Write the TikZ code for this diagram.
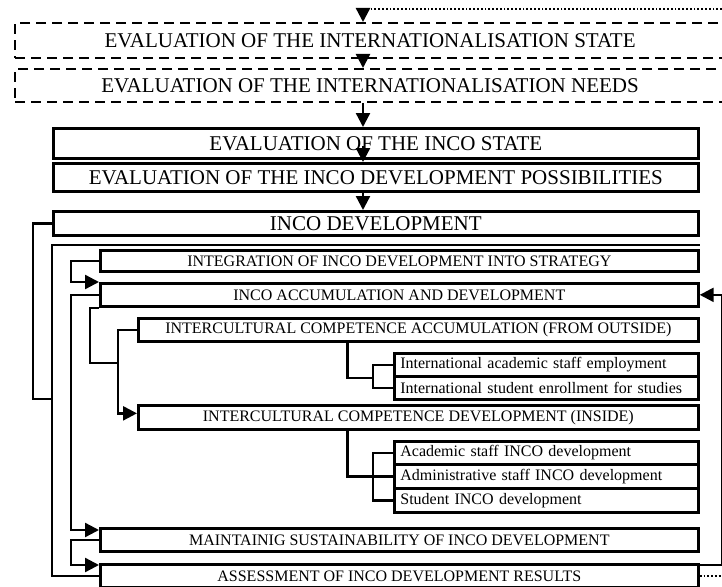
\documentclass[tikz,border=0pt]{standalone}
\usepackage{fontspec}
\setmainfont{Liberation Serif}
\usetikzlibrary{arrows.meta, positioning, calc}
\tikzstyle{evalbox} = [rectangle, anchor=north west, inner sep=0pt, draw=black, line width=2.2pt, dash pattern=on 10pt off 6pt, font=\fontsize{21}{21}\selectfont]
\tikzstyle{stagebox} = [rectangle, anchor=north west, inner sep=0pt, minimum width=645pt, draw=black, line width=2.7pt, font=\fontsize{21}{21}\selectfont]
\tikzstyle{process} = [rectangle, anchor=north west, inner sep=0pt, draw=black, line width=2.7pt, font=\fontsize{16}{16}\selectfont]
\tikzstyle{listbox} = [rectangle, anchor=north west, inner xsep=6pt, inner ysep=0pt, text width=292pt, minimum height=23pt, align=left, draw=black, line width=2.7pt, font=\fontsize{16}{16}\selectfont]
\tikzstyle{arrow} = [line width=2.4pt, -{Triangle[length=14pt,width=14pt]}]
\tikzstyle{link} = [line width=2.4pt]
\tikzstyle{feedback} = [line width=1.8pt, dash pattern=on 1.8pt off 2pt]

\begin{document}
\begin{tikzpicture}[x=1pt, y=-1pt]
\useasboundingbox (0,0) rectangle (722,586);
\clip (0,0) rectangle (722,586);

% Nodes
\node (statestep) [evalbox, minimum width=710pt, minimum height=35pt] at (14,22) {EVALUATION OF THE INTERNATIONALISATION STATE};
\node (needs) [evalbox, minimum width=710pt, minimum height=33pt] at (14,68) {EVALUATION OF THE INTERNATIONALISATION NEEDS};
\node (incostate) [stagebox, minimum height=30pt] at (52,127) {EVALUATION OF THE INCO STATE};
\node (possib) [stagebox, minimum height=28pt] at (52,162) {EVALUATION OF THE INCO DEVELOPMENT POSSIBILITIES};
\node (incodev) [stagebox, minimum height=24pt] at (52,210) {INCO DEVELOPMENT};
\node (integr) [process, minimum width=598pt, minimum height=21pt] at (99,249) {INTEGRATION OF INCO DEVELOPMENT INTO STRATEGY};
\node (accum) [process, minimum width=598pt, minimum height=23pt] at (99,282) {INCO ACCUMULATION AND DEVELOPMENT};
\node (outside) [process, minimum width=560pt, minimum height=23pt] at (137,317) {INTERCULTURAL COMPETENCE ACCUMULATION (FROM OUTSIDE)};
\node (staffemp) [listbox] at (393,352) {International academic staff employment};
\node (studenr) [listbox] at (393,375) {International student enrollment for studies};
\node (inside) [process, minimum width=560pt, minimum height=24pt] at (137,404) {INTERCULTURAL COMPETENCE DEVELOPMENT (INSIDE)};
\node (acadev) [listbox] at (393,440) {Academic staff INCO development};
\node (admdev) [listbox, minimum height=24pt] at (393,463) {Administrative staff INCO development};
\node (studev) [listbox, minimum height=24pt] at (393,487) {Student INCO development};
\node (sustain) [process, minimum width=598pt, minimum height=23pt] at (99,527) {MAINTAINIG SUSTAINABILITY OF INCO DEVELOPMENT};
\node (assess) [process, minimum width=598pt, minimum height=23pt] at (99,563) {ASSESSMENT OF INCO DEVELOPMENT RESULTS};

\coordinate (axis) at (363,0);
\coordinate (loopin) at (722,9);
\coordinate (loopturn) at (363,9);
\coordinate (spine) at (52,399);
\coordinate (subbus) at (118,363);
\coordinate (frametop) at ([yshift=4pt]integr.north west);
\coordinate (frameend) at ([yshift=4pt]integr.north east);

% Arrows
\draw [feedback] (loopin) -- (loopturn);
\draw [arrow] (loopturn) -- (loopturn |- statestep.north);
\draw [arrow] (statestep.south -| axis) -- (needs.north -| axis);
\draw [arrow] (needs.south -| axis) -- (incostate.north -| axis);
\draw [arrow] ([yshift=14pt]incostate.south -| axis) -- (possib.north -| axis);
\draw [arrow] (possib.south -| axis) -- (incodev.north -| axis);

\draw [link] (incodev.west) -- ++(-19,0) |- (spine);
\draw [link] (assess.west) -| (frametop -| incodev.west) -- (frameend);
\draw [arrow] (integr.west) -- ++(-28,0) |- (accum.north west);
\draw [arrow] (accum.west) -- ++(-28,0) |- ([yshift=-3pt]sustain.north west);
\draw [arrow] (sustain.west) -- ++(-28,0) |- ([yshift=-2pt]assess.north west);

\draw [link] (accum.south west) -- ++(-9,0) |- (subbus);
\draw [arrow] (outside.west) -- ++(-19,0) |- ([yshift=4pt]inside.west);
\draw [link] ([xshift=-71pt]outside.south) |- ([xshift=-20pt]staffemp.south west);
\draw [link] (staffemp.west) -- ++(-20,0) |- (studenr.west);
\draw [link] ([xshift=-71pt]inside.south) |- (admdev.west);
\draw [link] (acadev.west) -- ++(-20,0) |- (studev.west);

\draw [arrow] ([yshift=-2pt]assess.north east) -- ++(22,0) |- (accum.east);
\draw [feedback] (assess.east) -- (assess.east -| loopin);

\end{tikzpicture}
\end{document}
